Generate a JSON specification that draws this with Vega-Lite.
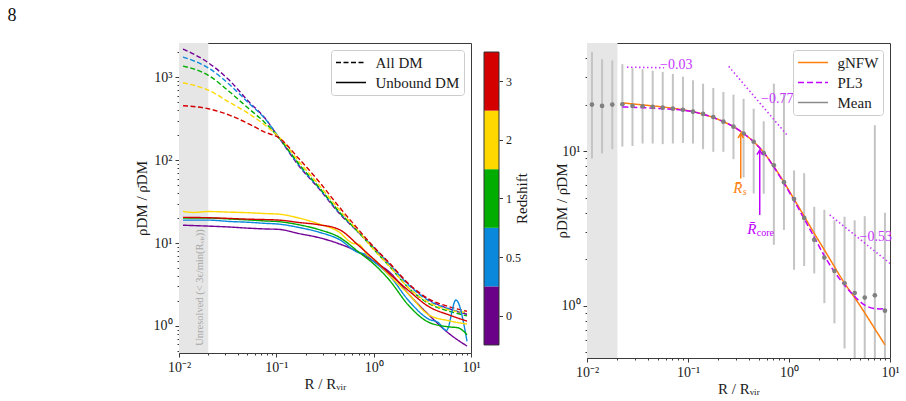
{
  "$schema": "https://vega.github.io/schema/vega-lite/v6.json",
  "background": "white",
  "padding": {"left": 7, "top": 6, "right": 4, "bottom": 4},
  "title": {"text": "8", "anchor": "start", "frame": "bounds", "dx": -126, "offset": 18, "fontSize": 18, "font": "Liberation Serif", "fontWeight": "normal", "color": "#111111"},
  "resolve": {"scale": {"color": "independent", "strokeDash": "independent", "x": "independent", "y": "independent"}, "legend": {"color": "independent", "strokeDash": "independent"}},
  "datasets": {
    "band": [{"r": 0.01, "r2": 0.02, "rho": 0.1, "rho2": 10000}],
    "unresolved": [{"r": 0.0164, "rho": 2.9, "label": "Unresolved (< 3ϵ/min(Rᵥᵢᵣ))"}],
    "profiles": [
      {"z": "0", "kind": "All DM", "r": 0.011, "rho": 2200}, {"z": "0", "kind": "All DM", "r": 0.02, "rho": 1500}, {"z": "0", "kind": "All DM", "r": 0.033, "rho": 920}, {"z": "0", "kind": "All DM", "r": 0.052, "rho": 510}, {"z": "0", "kind": "All DM", "r": 0.075, "rho": 330}, {"z": "0", "kind": "All DM", "r": 0.107, "rho": 185}, {"z": "0", "kind": "All DM", "r": 0.171, "rho": 85}, {"z": "0", "kind": "All DM", "r": 0.275, "rho": 45}, {"z": "0", "kind": "All DM", "r": 0.44, "rho": 23}, {"z": "0", "kind": "All DM", "r": 0.71, "rho": 13.2}, {"z": "0", "kind": "All DM", "r": 1.0, "rho": 8.9}, {"z": "0", "kind": "All DM", "r": 1.44, "rho": 5.7}, {"z": "0", "kind": "All DM", "r": 2.3, "rho": 3.15}, {"z": "0", "kind": "All DM", "r": 3.7, "rho": 2.05}, {"z": "0", "kind": "All DM", "r": 6.0, "rho": 1.6}, {"z": "0", "kind": "All DM", "r": 9.1, "rho": 1.38},
      {"z": "0.5", "kind": "All DM", "r": 0.011, "rho": 1760}, {"z": "0.5", "kind": "All DM", "r": 0.02, "rho": 1300}, {"z": "0.5", "kind": "All DM", "r": 0.033, "rho": 820}, {"z": "0.5", "kind": "All DM", "r": 0.052, "rho": 490}, {"z": "0.5", "kind": "All DM", "r": 0.075, "rho": 325}, {"z": "0.5", "kind": "All DM", "r": 0.107, "rho": 187}, {"z": "0.5", "kind": "All DM", "r": 0.171, "rho": 87}, {"z": "0.5", "kind": "All DM", "r": 0.275, "rho": 46}, {"z": "0.5", "kind": "All DM", "r": 0.44, "rho": 23.5}, {"z": "0.5", "kind": "All DM", "r": 0.71, "rho": 13.3}, {"z": "0.5", "kind": "All DM", "r": 1.0, "rho": 8.8}, {"z": "0.5", "kind": "All DM", "r": 1.44, "rho": 5.6}, {"z": "0.5", "kind": "All DM", "r": 2.3, "rho": 3.1}, {"z": "0.5", "kind": "All DM", "r": 3.7, "rho": 2.0}, {"z": "0.5", "kind": "All DM", "r": 6.0, "rho": 1.6}, {"z": "0.5", "kind": "All DM", "r": 9.1, "rho": 1.42},
      {"z": "1", "kind": "All DM", "r": 0.011, "rho": 1370}, {"z": "1", "kind": "All DM", "r": 0.02, "rho": 1060}, {"z": "1", "kind": "All DM", "r": 0.033, "rho": 670}, {"z": "1", "kind": "All DM", "r": 0.052, "rho": 420}, {"z": "1", "kind": "All DM", "r": 0.075, "rho": 290}, {"z": "1", "kind": "All DM", "r": 0.107, "rho": 185}, {"z": "1", "kind": "All DM", "r": 0.171, "rho": 90}, {"z": "1", "kind": "All DM", "r": 0.275, "rho": 47}, {"z": "1", "kind": "All DM", "r": 0.44, "rho": 24}, {"z": "1", "kind": "All DM", "r": 0.71, "rho": 13.2}, {"z": "1", "kind": "All DM", "r": 1.0, "rho": 8.4}, {"z": "1", "kind": "All DM", "r": 1.44, "rho": 5.3}, {"z": "1", "kind": "All DM", "r": 2.3, "rho": 2.85}, {"z": "1", "kind": "All DM", "r": 3.7, "rho": 1.85}, {"z": "1", "kind": "All DM", "r": 6.0, "rho": 1.5}, {"z": "1", "kind": "All DM", "r": 9.1, "rho": 1.32},
      {"z": "2", "kind": "All DM", "r": 0.011, "rho": 860}, {"z": "2", "kind": "All DM", "r": 0.02, "rho": 700}, {"z": "2", "kind": "All DM", "r": 0.033, "rho": 500}, {"z": "2", "kind": "All DM", "r": 0.052, "rho": 365}, {"z": "2", "kind": "All DM", "r": 0.075, "rho": 270}, {"z": "2", "kind": "All DM", "r": 0.107, "rho": 190}, {"z": "2", "kind": "All DM", "r": 0.171, "rho": 96}, {"z": "2", "kind": "All DM", "r": 0.275, "rho": 50}, {"z": "2", "kind": "All DM", "r": 0.44, "rho": 25.5}, {"z": "2", "kind": "All DM", "r": 0.71, "rho": 13.5}, {"z": "2", "kind": "All DM", "r": 1.0, "rho": 8.4}, {"z": "2", "kind": "All DM", "r": 1.44, "rho": 5.3}, {"z": "2", "kind": "All DM", "r": 2.3, "rho": 2.85}, {"z": "2", "kind": "All DM", "r": 3.7, "rho": 1.9}, {"z": "2", "kind": "All DM", "r": 6.0, "rho": 1.55}, {"z": "2", "kind": "All DM", "r": 9.1, "rho": 1.45},
      {"z": "3", "kind": "All DM", "r": 0.011, "rho": 455}, {"z": "3", "kind": "All DM", "r": 0.02, "rho": 418}, {"z": "3", "kind": "All DM", "r": 0.033, "rho": 350}, {"z": "3", "kind": "All DM", "r": 0.052, "rho": 275}, {"z": "3", "kind": "All DM", "r": 0.075, "rho": 220}, {"z": "3", "kind": "All DM", "r": 0.107, "rho": 185}, {"z": "3", "kind": "All DM", "r": 0.171, "rho": 104}, {"z": "3", "kind": "All DM", "r": 0.275, "rho": 55}, {"z": "3", "kind": "All DM", "r": 0.44, "rho": 27.5}, {"z": "3", "kind": "All DM", "r": 0.71, "rho": 14.2}, {"z": "3", "kind": "All DM", "r": 1.0, "rho": 9.0}, {"z": "3", "kind": "All DM", "r": 1.44, "rho": 5.8}, {"z": "3", "kind": "All DM", "r": 2.3, "rho": 3.2}, {"z": "3", "kind": "All DM", "r": 3.7, "rho": 2.1}, {"z": "3", "kind": "All DM", "r": 6.0, "rho": 1.7}, {"z": "3", "kind": "All DM", "r": 9.1, "rho": 1.5},
      {"z": "0", "kind": "Unbound DM", "r": 0.011, "rho": 16.4}, {"z": "0", "kind": "Unbound DM", "r": 0.02, "rho": 16.0}, {"z": "0", "kind": "Unbound DM", "r": 0.033, "rho": 15.6}, {"z": "0", "kind": "Unbound DM", "r": 0.052, "rho": 15.1}, {"z": "0", "kind": "Unbound DM", "r": 0.075, "rho": 14.8}, {"z": "0", "kind": "Unbound DM", "r": 0.107, "rho": 14.6}, {"z": "0", "kind": "Unbound DM", "r": 0.171, "rho": 13.0}, {"z": "0", "kind": "Unbound DM", "r": 0.275, "rho": 11.6}, {"z": "0", "kind": "Unbound DM", "r": 0.44, "rho": 9.8}, {"z": "0", "kind": "Unbound DM", "r": 0.71, "rho": 7.7}, {"z": "0", "kind": "Unbound DM", "r": 1.0, "rho": 6.0}, {"z": "0", "kind": "Unbound DM", "r": 1.44, "rho": 4.5}, {"z": "0", "kind": "Unbound DM", "r": 2.3, "rho": 2.4}, {"z": "0", "kind": "Unbound DM", "r": 3.7, "rho": 1.35}, {"z": "0", "kind": "Unbound DM", "r": 6.0, "rho": 0.8}, {"z": "0", "kind": "Unbound DM", "r": 9.1, "rho": 0.57},
      {"z": "0.5", "kind": "Unbound DM", "r": 0.011, "rho": 18.9}, {"z": "0.5", "kind": "Unbound DM", "r": 0.02, "rho": 18.9}, {"z": "0.5", "kind": "Unbound DM", "r": 0.033, "rho": 18.2}, {"z": "0.5", "kind": "Unbound DM", "r": 0.052, "rho": 17.8}, {"z": "0.5", "kind": "Unbound DM", "r": 0.075, "rho": 17.3}, {"z": "0.5", "kind": "Unbound DM", "r": 0.107, "rho": 16.9}, {"z": "0.5", "kind": "Unbound DM", "r": 0.171, "rho": 15.4}, {"z": "0.5", "kind": "Unbound DM", "r": 0.275, "rho": 13.5}, {"z": "0.5", "kind": "Unbound DM", "r": 0.44, "rho": 11.1}, {"z": "0.5", "kind": "Unbound DM", "r": 0.71, "rho": 7.6}, {"z": "0.5", "kind": "Unbound DM", "r": 0.8, "rho": 7.4}, {"z": "0.5", "kind": "Unbound DM", "r": 1.0, "rho": 6.0}, {"z": "0.5", "kind": "Unbound DM", "r": 1.44, "rho": 4.1}, {"z": "0.5", "kind": "Unbound DM", "r": 2.3, "rho": 2.0}, {"z": "0.5", "kind": "Unbound DM", "r": 3.7, "rho": 1.2}, {"z": "0.5", "kind": "Unbound DM", "r": 4.6, "rho": 1.1}, {"z": "0.5", "kind": "Unbound DM", "r": 5.6, "rho": 0.88}, {"z": "0.5", "kind": "Unbound DM", "r": 7.0, "rho": 2.05}, {"z": "0.5", "kind": "Unbound DM", "r": 9.1, "rho": 0.65},
      {"z": "1", "kind": "Unbound DM", "r": 0.011, "rho": 20.0}, {"z": "1", "kind": "Unbound DM", "r": 0.02, "rho": 20.0}, {"z": "1", "kind": "Unbound DM", "r": 0.033, "rho": 19.5}, {"z": "1", "kind": "Unbound DM", "r": 0.052, "rho": 19.0}, {"z": "1", "kind": "Unbound DM", "r": 0.075, "rho": 18.5}, {"z": "1", "kind": "Unbound DM", "r": 0.107, "rho": 18.1}, {"z": "1", "kind": "Unbound DM", "r": 0.171, "rho": 16.6}, {"z": "1", "kind": "Unbound DM", "r": 0.275, "rho": 14.5}, {"z": "1", "kind": "Unbound DM", "r": 0.44, "rho": 11.8}, {"z": "1", "kind": "Unbound DM", "r": 0.71, "rho": 7.7}, {"z": "1", "kind": "Unbound DM", "r": 1.0, "rho": 5.6}, {"z": "1", "kind": "Unbound DM", "r": 1.44, "rho": 3.6}, {"z": "1", "kind": "Unbound DM", "r": 2.3, "rho": 1.75}, {"z": "1", "kind": "Unbound DM", "r": 3.7, "rho": 1.1}, {"z": "1", "kind": "Unbound DM", "r": 6.0, "rho": 0.97}, {"z": "1", "kind": "Unbound DM", "r": 7.3, "rho": 0.95}, {"z": "1", "kind": "Unbound DM", "r": 9.1, "rho": 0.78},
      {"z": "2", "kind": "Unbound DM", "r": 0.011, "rho": 24.1}, {"z": "2", "kind": "Unbound DM", "r": 0.014, "rho": 23.4}, {"z": "2", "kind": "Unbound DM", "r": 0.02, "rho": 24.0}, {"z": "2", "kind": "Unbound DM", "r": 0.033, "rho": 23.6}, {"z": "2", "kind": "Unbound DM", "r": 0.052, "rho": 23.2}, {"z": "2", "kind": "Unbound DM", "r": 0.075, "rho": 22.7}, {"z": "2", "kind": "Unbound DM", "r": 0.107, "rho": 22.3}, {"z": "2", "kind": "Unbound DM", "r": 0.171, "rho": 20.0}, {"z": "2", "kind": "Unbound DM", "r": 0.275, "rho": 17.0}, {"z": "2", "kind": "Unbound DM", "r": 0.44, "rho": 13.6}, {"z": "2", "kind": "Unbound DM", "r": 0.6, "rho": 10.0}, {"z": "2", "kind": "Unbound DM", "r": 0.71, "rho": 9.6}, {"z": "2", "kind": "Unbound DM", "r": 0.85, "rho": 7.3}, {"z": "2", "kind": "Unbound DM", "r": 1.0, "rho": 6.4}, {"z": "2", "kind": "Unbound DM", "r": 1.44, "rho": 4.1}, {"z": "2", "kind": "Unbound DM", "r": 2.3, "rho": 2.4}, {"z": "2", "kind": "Unbound DM", "r": 3.7, "rho": 1.35}, {"z": "2", "kind": "Unbound DM", "r": 6.0, "rho": 1.15}, {"z": "2", "kind": "Unbound DM", "r": 9.1, "rho": 1.05},
      {"z": "3", "kind": "Unbound DM", "r": 0.011, "rho": 20.4}, {"z": "3", "kind": "Unbound DM", "r": 0.02, "rho": 20.2}, {"z": "3", "kind": "Unbound DM", "r": 0.033, "rho": 19.8}, {"z": "3", "kind": "Unbound DM", "r": 0.052, "rho": 19.4}, {"z": "3", "kind": "Unbound DM", "r": 0.075, "rho": 19.2}, {"z": "3", "kind": "Unbound DM", "r": 0.107, "rho": 18.9}, {"z": "3", "kind": "Unbound DM", "r": 0.171, "rho": 17.7}, {"z": "3", "kind": "Unbound DM", "r": 0.275, "rho": 16.6}, {"z": "3", "kind": "Unbound DM", "r": 0.44, "rho": 14.6}, {"z": "3", "kind": "Unbound DM", "r": 0.71, "rho": 9.2}, {"z": "3", "kind": "Unbound DM", "r": 1.0, "rho": 6.4}, {"z": "3", "kind": "Unbound DM", "r": 1.44, "rho": 4.3}, {"z": "3", "kind": "Unbound DM", "r": 2.3, "rho": 2.65}, {"z": "3", "kind": "Unbound DM", "r": 3.7, "rho": 1.7}, {"z": "3", "kind": "Unbound DM", "r": 6.0, "rho": 1.35}, {"z": "3", "kind": "Unbound DM", "r": 9.1, "rho": 1.14}
    ],
    "colorbar": [
      {"z": "0", "lo": 0, "hi": 1}, {"z": "0.5", "lo": 1, "hi": 2}, {"z": "1", "lo": 2, "hi": 3}, {"z": "2", "lo": 3, "hi": 4}, {"z": "3", "lo": 4, "hi": 5}
    ],
    "mean": [
      {"r": 0.0112, "rho": 20.0, "lo": 8.96, "hi": 43.7}, {"r": 0.0141, "rho": 19.6, "lo": 9.66, "hi": 39.3}, {"r": 0.0178, "rho": 20.0, "lo": 10.3, "hi": 38.6}, {"r": 0.0224, "rho": 20.1, "lo": 10.7, "hi": 36.5}, {"r": 0.0282, "rho": 19.6, "lo": 10.8, "hi": 34.4}, {"r": 0.0355, "rho": 19.5, "lo": 11.2, "hi": 33.8}, {"r": 0.0447, "rho": 19.3, "lo": 11.2, "hi": 33.1}, {"r": 0.0562, "rho": 19.1, "lo": 11.1, "hi": 32.5}, {"r": 0.0708, "rho": 18.8, "lo": 11.2, "hi": 31.6}, {"r": 0.0891, "rho": 18.5, "lo": 11.3, "hi": 30.3},
      {"r": 0.112, "rho": 18.0, "lo": 11.2, "hi": 28.7}, {"r": 0.141, "rho": 17.4, "lo": 10.3, "hi": 27.3}, {"r": 0.178, "rho": 16.6, "lo": 9.9, "hi": 25.6}, {"r": 0.224, "rho": 15.5, "lo": 9.9, "hi": 24.1}, {"r": 0.282, "rho": 14.4, "lo": 8.87, "hi": 23.2}, {"r": 0.355, "rho": 13.0, "lo": 6.76, "hi": 21.8}, {"r": 0.447, "rho": 11.5, "lo": 5.32, "hi": 18.8}, {"r": 0.562, "rho": 9.7, "lo": 5.3, "hi": 15.6}, {"r": 0.708, "rho": 8.1, "lo": 2.48, "hi": 27.3}, {"r": 0.891, "rho": 6.3, "lo": 3.09, "hi": 23.5},
      {"r": 1.122, "rho": 4.9, "lo": 1.71, "hi": 7.5}, {"r": 1.413, "rho": 3.7, "lo": 1.81, "hi": 7.2}, {"r": 1.778, "rho": 2.67, "lo": 1.62, "hi": 4.37}, {"r": 2.239, "rho": 2.05, "lo": 1.04, "hi": 4.17}, {"r": 2.818, "rho": 1.68, "lo": 0.77, "hi": 3.57}, {"r": 3.548, "rho": 1.4, "lo": 0.53, "hi": 3.77}, {"r": 4.467, "rho": 1.21, "lo": 0.3, "hi": 3.57}, {"r": 5.623, "rho": 1.13, "lo": 0.3, "hi": 3.8}, {"r": 7.079, "rho": 1.17, "lo": 0.3, "hi": 14.7}, {"r": 8.913, "rho": 0.93, "lo": 0.3, "hi": 4.0}
    ],
    "fits": [
      {"model": "gNFW", "r": 0.0224, "rho": 20.5}, {"model": "gNFW", "r": 0.0355, "rho": 19.9}, {"model": "gNFW", "r": 0.0562, "rho": 19.3}, {"model": "gNFW", "r": 0.0891, "rho": 18.5}, {"model": "gNFW", "r": 0.112, "rho": 18.0}, {"model": "gNFW", "r": 0.141, "rho": 17.3}, {"model": "gNFW", "r": 0.178, "rho": 16.5}, {"model": "gNFW", "r": 0.224, "rho": 15.5}, {"model": "gNFW", "r": 0.282, "rho": 14.4}, {"model": "gNFW", "r": 0.355, "rho": 13.0}, {"model": "gNFW", "r": 0.447, "rho": 11.5}, {"model": "gNFW", "r": 0.562, "rho": 9.8}, {"model": "gNFW", "r": 0.708, "rho": 7.95}, {"model": "gNFW", "r": 0.891, "rho": 6.3}, {"model": "gNFW", "r": 1.122, "rho": 4.9}, {"model": "gNFW", "r": 1.413, "rho": 3.8}, {"model": "gNFW", "r": 1.778, "rho": 2.94}, {"model": "gNFW", "r": 2.239, "rho": 2.3}, {"model": "gNFW", "r": 2.818, "rho": 1.79}, {"model": "gNFW", "r": 3.548, "rho": 1.4}, {"model": "gNFW", "r": 4.467, "rho": 1.13}, {"model": "gNFW", "r": 5.623, "rho": 0.9}, {"model": "gNFW", "r": 7.079, "rho": 0.71}, {"model": "gNFW", "r": 8.913, "rho": 0.56},
      {"model": "PL3", "r": 0.0224, "rho": 19.3}, {"model": "PL3", "r": 0.0355, "rho": 19.1}, {"model": "PL3", "r": 0.0562, "rho": 18.8}, {"model": "PL3", "r": 0.0891, "rho": 18.4}, {"model": "PL3", "r": 0.112, "rho": 18.0}, {"model": "PL3", "r": 0.141, "rho": 17.3}, {"model": "PL3", "r": 0.178, "rho": 16.5}, {"model": "PL3", "r": 0.224, "rho": 15.5}, {"model": "PL3", "r": 0.282, "rho": 14.4}, {"model": "PL3", "r": 0.355, "rho": 13.0}, {"model": "PL3", "r": 0.447, "rho": 11.5}, {"model": "PL3", "r": 0.562, "rho": 9.8}, {"model": "PL3", "r": 0.708, "rho": 7.9}, {"model": "PL3", "r": 0.891, "rho": 6.2}, {"model": "PL3", "r": 1.122, "rho": 4.8}, {"model": "PL3", "r": 1.413, "rho": 3.65}, {"model": "PL3", "r": 1.778, "rho": 2.78}, {"model": "PL3", "r": 2.239, "rho": 2.1}, {"model": "PL3", "r": 2.818, "rho": 1.66}, {"model": "PL3", "r": 3.548, "rho": 1.36}, {"model": "PL3", "r": 4.467, "rho": 1.15}, {"model": "PL3", "r": 5.623, "rho": 1.01}, {"model": "PL3", "r": 7.079, "rho": 0.96}, {"model": "PL3", "r": 7.943, "rho": 0.955}, {"model": "PL3", "r": 8.913, "rho": 0.96}
    ],
    "slopes": [
      {"seg": "inner", "r": 0.0249, "rho": 34.9}, {"seg": "inner", "r": 0.058, "rho": 34.6},
      {"seg": "middle", "r": 0.253, "rho": 35.3}, {"seg": "middle", "r": 0.977, "rho": 12.5},
      {"seg": "outer", "r": 2.53, "rho": 3.87}, {"seg": "outer", "r": 10, "rho": 1.88}
    ],
    "slope_labels": [
      {"r": 0.0528, "rho": 35.8, "label": "−0.03"}, {"r": 0.528, "rho": 21.8, "label": "−0.77"}, {"r": 5.0, "rho": 2.8, "label": "−0.53"}
    ],
    "markers": [
      {"name": "Rs", "sub": "s", "r": 0.333, "lo": 6.66, "hi": 13.0, "ly": 5.74},
      {"name": "Rcore", "sub": "core", "r": 0.513, "lo": 3.87, "hi": 10.15, "ly": 3.16}
    ]
  },
  "spacing": 23,
  "hconcat": [
    {
      "spacing": 13,
      "bounds": "flush",
      "resolve": {"scale": {"color": "independent", "strokeDash": "independent", "x": "independent", "y": "independent"}, "legend": {"color": "independent", "strokeDash": "independent"}},
      "hconcat": [
        {
          "width": 292,
          "height": 310,
          "layer": [
            {
              "data": {"name": "band"},
              "mark": {"type": "rect", "color": "#e6e6e6", "clip": true},
              "encoding": {
                "x": {"field": "r", "type": "quantitative", "scale": {"type": "log", "domain": [0.01, 10], "nice": false},
                  "axis": {"title": "R / Rᵥᵢᵣ", "titlePadding": 2,
                    "values": [0.01, 0.02, 0.03, 0.04, 0.05, 0.06, 0.07, 0.08, 0.09, 0.1, 0.2, 0.3, 0.4, 0.5, 0.6, 0.7, 0.8, 0.9, 1, 2, 3, 4, 5, 6, 7, 8, 9, 10],
                    "labelExpr": "abs(log(datum.value)/LN10 - round(log(datum.value)/LN10)) > 0.001 ? '' : datum.value < 0.05 ? '10⁻²' : datum.value < 0.5 ? '10⁻¹' : datum.value < 5 ? '10⁰' : '10¹'",
                    "tickSize": {"condition": {"test": "abs(log(datum.value)/LN10 - round(log(datum.value)/LN10)) < 0.001", "value": 4}, "value": 2}}},
                "x2": {"field": "r2"},
                "y": {"field": "rho", "type": "quantitative", "scale": {"type": "log", "domain": [0.47, 2600], "nice": false},
                  "axis": {"title": "ρDM / ρ̄DM",
                    "values": [0.5, 0.6, 0.7, 0.8, 0.9, 1, 2, 3, 4, 5, 6, 7, 8, 9, 10, 20, 30, 40, 50, 60, 70, 80, 90, 100, 200, 300, 400, 500, 600, 700, 800, 900, 1000, 2000],
                    "labelExpr": "abs(log(datum.value)/LN10 - round(log(datum.value)/LN10)) > 0.001 ? '' : datum.value < 5 ? '10⁰' : datum.value < 50 ? '10¹' : datum.value < 500 ? '10²' : '10³'",
                    "tickSize": {"condition": {"test": "abs(log(datum.value)/LN10 - round(log(datum.value)/LN10)) < 0.001", "value": 4}, "value": 2}}},
                "y2": {"field": "rho2"}
              }
            },
            {
              "data": {"name": "unresolved"},
              "mark": {"type": "text", "angle": 270, "fontSize": 10.5, "color": "#a8a8a8", "align": "center", "baseline": "middle"},
              "encoding": {
                "x": {"field": "r", "type": "quantitative", "scale": {"type": "log", "domain": [0.01, 10], "nice": false}},
                "y": {"field": "rho", "type": "quantitative", "scale": {"type": "log", "domain": [0.47, 2600], "nice": false}},
                "text": {"field": "label"}
              }
            },
            {
              "data": {"name": "profiles"},
              "mark": {"type": "line", "strokeWidth": 1.4, "clip": true, "interpolate": "monotone"},
              "encoding": {
                "x": {"field": "r", "type": "quantitative", "scale": {"type": "log", "domain": [0.01, 10], "nice": false}},
                "y": {"field": "rho", "type": "quantitative", "scale": {"type": "log", "domain": [0.47, 2600], "nice": false}},
                "color": {"field": "z", "type": "nominal", "scale": {"domain": ["0", "0.5", "1", "2", "3"], "range": ["#720096", "#0a88dc", "#00ad00", "#ffd800", "#d40000"]}, "legend": null},
                "strokeDash": {"field": "kind", "type": "nominal", "scale": {"domain": ["All DM", "Unbound DM"], "range": [[5, 2.5], [1, 0]]},
                  "legend": {"title": null, "symbolStrokeColor": "#000000", "orient": "top-right", "offset": 7, "symbolType": "M-2,0H2", "symbolSize": 225, "symbolOffset": 7.5, "labelOffset": 16, "padding": 4, "rowPadding": 3}}
              }
            }
          ]
        },
        {
          "width": 15,
          "height": 310,
          "view": {"stroke": null},
          "layer": [
            {
              "data": {"name": "colorbar"},
              "mark": {"type": "rect"},
              "encoding": {
                "y": {"field": "lo", "type": "quantitative", "scale": {"domain": [-0.137, 5.154], "nice": false, "zero": false},
                  "axis": {"orient": "right", "title": "Redshift", "titleAngle": 270, "titleBaseline": "bottom", "titlePadding": 9, "labelFontSize": 12, "tickSize": 3.5,
                    "values": [0.5, 1.5, 2.5, 3.5, 4.5],
                    "labelExpr": "datum.value < 1 ? '0' : datum.value < 2 ? '0.5' : datum.value < 3 ? '1' : datum.value < 4 ? '2' : '3'"}},
                "y2": {"field": "hi"},
                "color": {"field": "z", "type": "nominal", "scale": {"domain": ["0", "0.5", "1", "2", "3"], "range": ["#6a0088", "#0a88dc", "#00ad00", "#ffd800", "#d40000"]}, "legend": null}
              }
            },
            {
              "data": {"values": [{"lo": 0, "hi": 5}]},
              "mark": {"type": "rect", "filled": false, "color": "#333333", "strokeWidth": 1},
              "encoding": {
                "y": {"field": "lo", "type": "quantitative", "scale": {"domain": [-0.137, 5.154], "nice": false, "zero": false}},
                "y2": {"field": "hi"}
              }
            }
          ]
        }
      ]
    },
    {
      "width": 303,
      "height": 315,
      "layer": [
        {
          "data": {"name": "band"},
          "mark": {"type": "rect", "color": "#e6e6e6", "clip": true},
          "encoding": {
            "x": {"field": "r", "type": "quantitative", "scale": {"type": "log", "domain": [0.01, 10], "nice": false},
              "axis": {"title": "R / Rᵥᵢᵣ", "titlePadding": 2,
                "values": [0.01, 0.02, 0.03, 0.04, 0.05, 0.06, 0.07, 0.08, 0.09, 0.1, 0.2, 0.3, 0.4, 0.5, 0.6, 0.7, 0.8, 0.9, 1, 2, 3, 4, 5, 6, 7, 8, 9, 10],
                "labelExpr": "abs(log(datum.value)/LN10 - round(log(datum.value)/LN10)) > 0.001 ? '' : datum.value < 0.05 ? '10⁻²' : datum.value < 0.5 ? '10⁻¹' : datum.value < 5 ? '10⁰' : '10¹'",
                "tickSize": {"condition": {"test": "abs(log(datum.value)/LN10 - round(log(datum.value)/LN10)) < 0.001", "value": 4}, "value": 2}}},
            "x2": {"field": "r2"},
            "y": {"field": "rho", "type": "quantitative", "scale": {"type": "log", "domain": [0.46, 50], "nice": false},
              "axis": {"title": "ρDM / ρ̄DM", "titlePadding": -8,
                "values": [0.5, 0.6, 0.7, 0.8, 0.9, 1, 2, 3, 4, 5, 6, 7, 8, 9, 10, 20, 30, 40],
                "labelExpr": "abs(log(datum.value)/LN10 - round(log(datum.value)/LN10)) > 0.001 ? '' : datum.value < 5 ? '10⁰' : '10¹'",
                "tickSize": {"condition": {"test": "abs(log(datum.value)/LN10 - round(log(datum.value)/LN10)) < 0.001", "value": 4}, "value": 2}}},
            "y2": {"field": "rho2"}
          }
        },
        {
          "data": {"name": "mean"},
          "mark": {"type": "rule", "color": "#c4c4c4", "strokeWidth": 2, "clip": true},
          "encoding": {
            "x": {"field": "r", "type": "quantitative", "scale": {"type": "log", "domain": [0.01, 10], "nice": false}},
            "y": {"field": "lo", "type": "quantitative", "scale": {"type": "log", "domain": [0.46, 50], "nice": false}},
            "y2": {"field": "hi"}
          }
        },
        {
          "data": {"name": "fits"},
          "mark": {"type": "line", "strokeWidth": 1.5, "clip": true, "interpolate": "monotone"},
          "encoding": {
            "x": {"field": "r", "type": "quantitative", "scale": {"type": "log", "domain": [0.01, 10], "nice": false}},
            "y": {"field": "rho", "type": "quantitative", "scale": {"type": "log", "domain": [0.46, 50], "nice": false}},
            "color": {"field": "model", "type": "nominal", "scale": {"domain": ["gNFW", "PL3", "Mean"], "range": ["#ff7f0e", "#bf00ff", "#8a8a8a"]},
              "legend": {"title": null, "orient": "top-right", "offset": 7, "symbolType": "M-2,0H2", "symbolSize": 225, "symbolOffset": 7.5, "labelOffset": 16, "padding": 4, "rowPadding": 3}},
            "strokeDash": {"field": "model", "type": "nominal", "scale": {"domain": ["gNFW", "PL3", "Mean"], "range": [[1, 0], [6, 3], [1, 0]]},
              "legend": {"title": null, "orient": "top-right", "offset": 7, "symbolType": "M-2,0H2", "symbolSize": 225, "symbolOffset": 7.5, "labelOffset": 16, "padding": 4, "rowPadding": 3}}
          }
        },
        {
          "data": {"name": "mean"},
          "mark": {"type": "circle", "size": 22, "opacity": 1, "color": "#808080"},
          "encoding": {
            "x": {"field": "r", "type": "quantitative", "scale": {"type": "log", "domain": [0.01, 10], "nice": false}},
            "y": {"field": "rho", "type": "quantitative", "scale": {"type": "log", "domain": [0.46, 50], "nice": false}}
          }
        },
        {
          "data": {"name": "slopes"},
          "mark": {"type": "line", "color": "#c535ff", "strokeDash": [1.5, 2.5], "strokeWidth": 1.6, "clip": true},
          "encoding": {
            "x": {"field": "r", "type": "quantitative", "scale": {"type": "log", "domain": [0.01, 10], "nice": false}},
            "y": {"field": "rho", "type": "quantitative", "scale": {"type": "log", "domain": [0.46, 50], "nice": false}},
            "detail": {"field": "seg"}
          }
        },
        {
          "data": {"name": "slope_labels"},
          "mark": {"type": "text", "color": "#c535ff", "fontSize": 14, "align": "left", "baseline": "middle"},
          "encoding": {
            "x": {"field": "r", "type": "quantitative", "scale": {"type": "log", "domain": [0.01, 10], "nice": false}},
            "y": {"field": "rho", "type": "quantitative", "scale": {"type": "log", "domain": [0.46, 50], "nice": false}},
            "text": {"field": "label"}
          }
        },
        {
          "data": {"name": "markers"},
          "transform": [{"filter": "datum.name === 'Rs'"}],
          "layer": [
            {"mark": {"type": "rule", "color": "#ff7f0e", "strokeWidth": 1.5},
             "encoding": {"x": {"field": "r", "type": "quantitative", "scale": {"type": "log", "domain": [0.01, 10], "nice": false}}, "y": {"field": "lo", "type": "quantitative", "scale": {"type": "log", "domain": [0.46, 50], "nice": false}}, "y2": {"field": "hi"}}},
            {"mark": {"type": "point", "shape": "M-0.55,0.9L0,0L0.55,0.9", "filled": false, "size": 100, "strokeWidth": 1.5, "color": "#ff7f0e", "opacity": 1},
             "encoding": {"x": {"field": "r", "type": "quantitative", "scale": {"type": "log", "domain": [0.01, 10], "nice": false}}, "y": {"field": "hi", "type": "quantitative", "scale": {"type": "log", "domain": [0.46, 50], "nice": false}}}},
            {"mark": {"type": "text", "text": "R̄", "color": "#ff7f0e", "fontSize": 15, "fontStyle": "italic", "align": "center", "baseline": "middle", "dx": -3},
             "encoding": {"x": {"field": "r", "type": "quantitative", "scale": {"type": "log", "domain": [0.01, 10], "nice": false}}, "y": {"field": "ly", "type": "quantitative", "scale": {"type": "log", "domain": [0.46, 50], "nice": false}}}},
            {"mark": {"type": "text", "color": "#ff7f0e", "fontSize": 10, "fontStyle": "italic", "align": "left", "baseline": "middle", "dx": 2, "dy": 4},
             "encoding": {"x": {"field": "r", "type": "quantitative", "scale": {"type": "log", "domain": [0.01, 10], "nice": false}}, "y": {"field": "ly", "type": "quantitative", "scale": {"type": "log", "domain": [0.46, 50], "nice": false}}, "text": {"field": "sub"}}}
          ]
        },
        {
          "data": {"name": "markers"},
          "transform": [{"filter": "datum.name === 'Rcore'"}],
          "layer": [
            {"mark": {"type": "rule", "color": "#bf00ff", "strokeWidth": 1.5},
             "encoding": {"x": {"field": "r", "type": "quantitative", "scale": {"type": "log", "domain": [0.01, 10], "nice": false}}, "y": {"field": "lo", "type": "quantitative", "scale": {"type": "log", "domain": [0.46, 50], "nice": false}}, "y2": {"field": "hi"}}},
            {"mark": {"type": "point", "shape": "M-0.55,0.9L0,0L0.55,0.9", "filled": false, "size": 100, "strokeWidth": 1.5, "color": "#bf00ff", "opacity": 1},
             "encoding": {"x": {"field": "r", "type": "quantitative", "scale": {"type": "log", "domain": [0.01, 10], "nice": false}}, "y": {"field": "hi", "type": "quantitative", "scale": {"type": "log", "domain": [0.46, 50], "nice": false}}}},
            {"mark": {"type": "text", "text": "R̄", "color": "#bf00ff", "fontSize": 15, "fontStyle": "italic", "align": "center", "baseline": "middle", "dx": -8},
             "encoding": {"x": {"field": "r", "type": "quantitative", "scale": {"type": "log", "domain": [0.01, 10], "nice": false}}, "y": {"field": "ly", "type": "quantitative", "scale": {"type": "log", "domain": [0.46, 50], "nice": false}}}},
            {"mark": {"type": "text", "color": "#bf00ff", "fontSize": 10, "align": "left", "baseline": "middle", "dx": -3, "dy": 4},
             "encoding": {"x": {"field": "r", "type": "quantitative", "scale": {"type": "log", "domain": [0.01, 10], "nice": false}}, "y": {"field": "ly", "type": "quantitative", "scale": {"type": "log", "domain": [0.46, 50], "nice": false}}, "text": {"field": "sub"}}}
          ]
        }
      ]
    }
  ],
  "config": {
    "font": "Liberation Serif",
    "view": {"stroke": "#3a3a3a", "strokeWidth": 1},
    "axis": {"domain": false, "grid": false, "tickColor": "#3a3a3a", "tickWidth": 1, "labelFont": "Liberation Serif", "labelFontSize": 14, "labelColor": "#1a1a1a", "titleFont": "Liberation Serif", "titleFontSize": 15, "titleFontWeight": "normal", "titleColor": "#1a1a1a", "labelPadding": 3, "labelOverlap": false, "labelFlush": false},
    "legend": {"labelFont": "Liberation Serif", "labelFontSize": 15, "labelColor": "#1a1a1a", "strokeColor": "#cccccc", "fillColor": "#ffffff", "cornerRadius": 3, "symbolStrokeWidth": 1.5},
    "title": {"font": "Liberation Serif", "fontWeight": "normal"}
  }
}
